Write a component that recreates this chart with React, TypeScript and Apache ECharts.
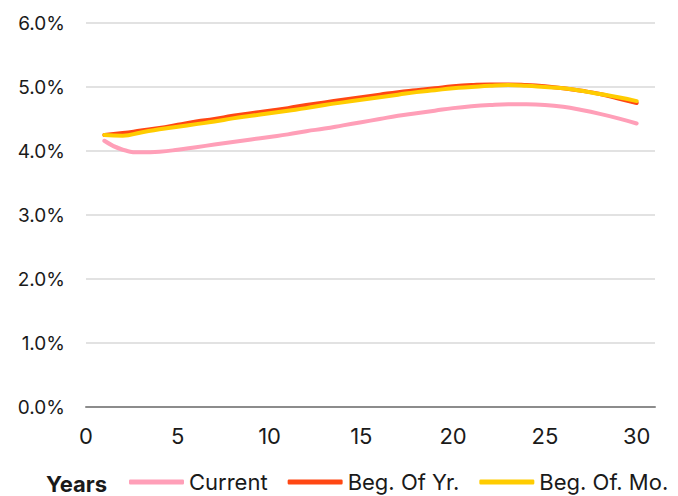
import React, { useEffect, useRef } from "react";
import * as echarts from "echarts";

// Maturities in years
const years = [1, 2, 3, 4, 5, 6, 7, 8, 9, 10, 11, 12, 13, 14, 15, 16, 17, 18, 19, 20, 21, 22, 23, 24, 25, 26, 27, 28, 29, 30];

// Yields (%) by maturity
const current = [4.16, 4.02, 3.98, 3.99, 4.02, 4.06, 4.10, 4.14, 4.18, 4.22, 4.26, 4.31, 4.35, 4.40, 4.45, 4.50, 4.55, 4.59, 4.63, 4.67, 4.70, 4.72, 4.73, 4.73, 4.72, 4.69, 4.64, 4.58, 4.51, 4.43];
const begOfYr = [4.25, 4.28, 4.32, 4.36, 4.41, 4.46, 4.50, 4.55, 4.59, 4.63, 4.67, 4.72, 4.76, 4.80, 4.84, 4.88, 4.92, 4.95, 4.98, 5.01, 5.03, 5.04, 5.04, 5.03, 5.01, 4.98, 4.94, 4.89, 4.82, 4.75];
const begOfMo = [4.25, 4.24, 4.29, 4.34, 4.38, 4.42, 4.46, 4.51, 4.55, 4.59, 4.63, 4.67, 4.72, 4.76, 4.80, 4.84, 4.88, 4.92, 4.95, 4.98, 5.00, 5.02, 5.03, 5.02, 5.00, 4.98, 4.94, 4.89, 4.84, 4.78];

const seriesNames = ["Current", "Beg. Of Yr.", "Beg. Of. Mo."];
const seriesColors = ["#ff9fb8", "#ff4713", "#ffcc00"];

const FONT = "Inter, 'Noto Sans', sans-serif";

export default function App() {
  const ref = useRef<HTMLDivElement>(null);

  useEffect(() => {
    if (!ref.current) return;
    const chart = echarts.init(ref.current, null, { renderer: "svg" });
    const pairs = (vals: number[]) => years.map((y, i) => [y, vals[i]]);
    const allData = [current, begOfYr, begOfMo];

    chart.setOption({
      animation: false,
      textStyle: { fontFamily: FONT },
      grid: { left: 86, right: 23, top: 23, bottom: 89, containLabel: false },
      xAxis: {
        type: "value",
        min: 0,
        max: 31,
        interval: 5,
        axisLine: { show: true, lineStyle: { color: "#8c8c8c", width: 2 } },
        axisTick: { show: false },
        splitLine: { show: false },
        axisLabel: {
          showMaxLabel: false,
          margin: 18,
          fontSize: 22,
          color: "#1a1a1a",
          fontFamily: FONT,
        },
      },
      yAxis: {
        type: "value",
        min: 0,
        max: 6,
        interval: 1,
        axisLine: { show: false },
        axisTick: { show: false },
        splitLine: { lineStyle: { color: "#d9d9d9", width: 1.5 } },
        axisLabel: {
          margin: 21,
          fontSize: 19,
          color: "#1a1a1a",
          fontFamily: FONT,
          formatter: (v: number) => `${v.toFixed(1)}%`,
        },
      },
      legend: {
        top: 471,
        left: 129,
        width: 549,
        padding: 0,
        itemWidth: 55,
        itemHeight: 5,
        itemGap: 20,
        icon: "roundRect",
        textStyle: { fontSize: 22, lineHeight: 22, color: "#1a1a1a", fontFamily: FONT },
        data: seriesNames,
      },
      graphic: [
        {
          type: "text",
          left: 46,
          bottom: 1,
          style: {
            text: "Years",
            font: `bold 22px ${FONT}`,
            fill: "#1a1a1a",
          },
        },
      ],
      series: seriesNames.map((name, i) => ({
        name,
        type: "line",
        data: pairs(allData[i]),
        smooth: true,
        showSymbol: false,
        symbol: "none",
        color: seriesColors[i],
        lineStyle: { width: 4, color: seriesColors[i], cap: "round" },
        z: 2 + i,
      })),
    });

    return () => chart.dispose();
  }, []);

  return <div ref={ref} style={{ width: 678, height: 496, position: "absolute", left: 0, top: 0 }} />;
}
